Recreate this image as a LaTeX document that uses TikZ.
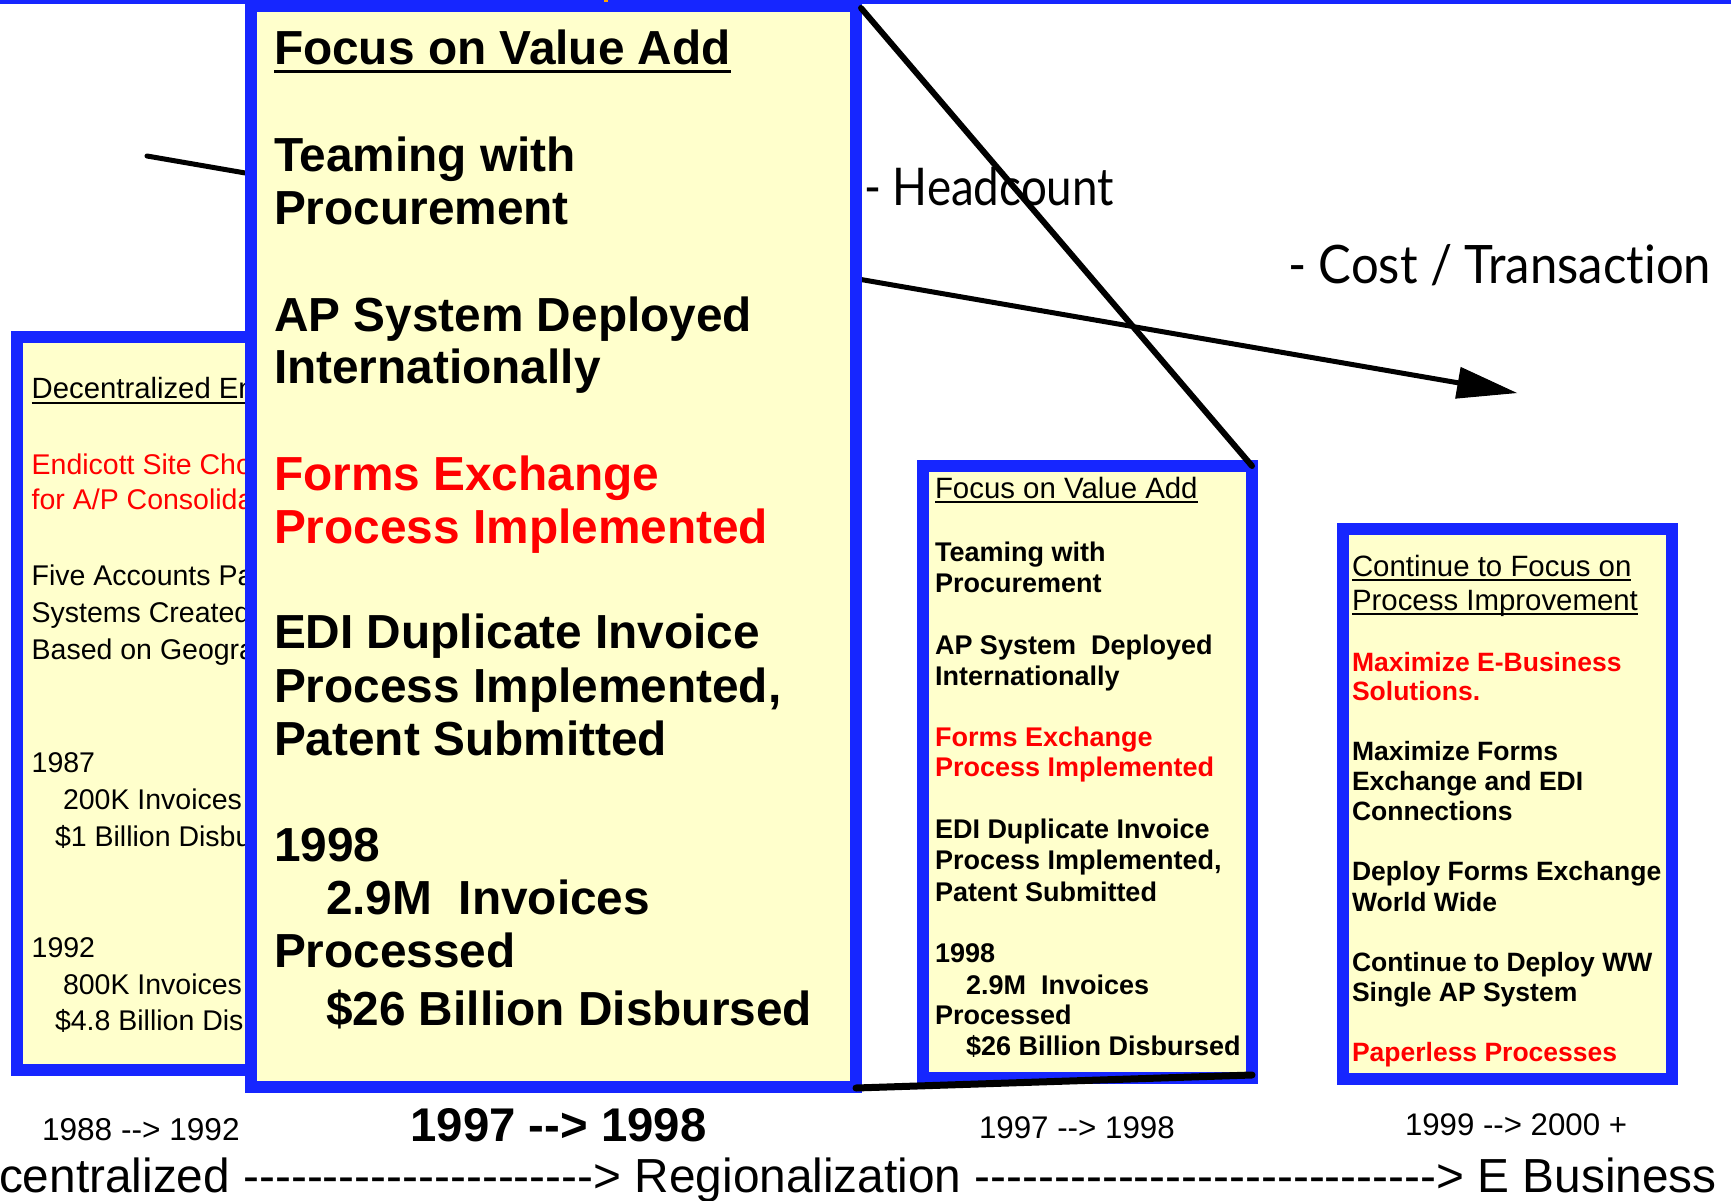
\documentclass[tikz,border=0pt]{standalone}
\usepackage{fontspec}
\setmainfont{Liberation Sans}
\newfontfamily\gillfont[FakeStretch=0.88,Ligatures=CommonOff]{Lato}
\newfontfamily\gillwide[FakeStretch=0.925,Ligatures=CommonOff]{Lato}
\usetikzlibrary{arrows.meta}
\definecolor{bblue}{RGB}{22,38,255}
\definecolor{byellow}{RGB}{255,255,204}
\definecolor{bred}{RGB}{255,0,0}
\definecolor{borange}{RGB}{255,160,0}
\newcommand\hy{\mbox{-}}
\newcommand\dashrun[1]{\foreach \k in {1,...,#1}{\hy}}
\begin{document}
\begin{tikzpicture}[x=1pt,y=-1pt,
  panel/.style={draw=bblue, line width=12pt, fill=byellow, inner sep=0pt, outer sep=0pt},
  txt/.style={anchor=base west, inner sep=0pt, outer sep=0pt},
  bigtxt/.style={txt, font=\fontsize{47.8}{56}\selectfont\bfseries},
  midtxt/.style={txt, font=\fontsize{27}{31}\selectfont\bfseries},
  midhead/.style={txt, font=\fontsize{29.4}{33}\selectfont},
  rtxt/.style={txt, font=\fontsize{26.5}{30}\selectfont\bfseries},
  rhead/.style={txt, font=\fontsize{29.4}{33}\selectfont},
  ltxt/.style={txt, font=\fontsize{28.5}{34}\selectfont},
  hot/.style={text=bred},
  gill/.style={txt, font=\gillfont\fontsize{52}{60}\selectfont},
  gillw/.style={txt, font=\gillwide\fontsize{53}{60}\selectfont},
  conn/.style={line width=6pt, line cap=round},
  uline/.style={line width=#1},
]
\useasboundingbox (0,0) rectangle (1731,1201);
\fill[bblue] (0,0) rectangle (1731,4);

% left (background) panel, partly hidden by the big panel
\node[panel, minimum width=383pt, minimum height=733pt] (lbox) at (208.5,703.5) {};
\node[ltxt, font=\fontsize{29.3}{34}\selectfont] (l1) at (31.7,398.5) {Decentralized En};
\draw[uline=2pt] ([yshift=-4.5pt]l1.base west) -- ([yshift=-4.5pt]l1.base east);
\node[ltxt,hot] (l2) at (31.7,474) {Endicott Site Cho};
\node[ltxt,hot] (l3) at (31.7,509) {for A/P Consolida};
\node[ltxt] (l4) at (31.7,585.6) {Five Accounts Pa};
\node[ltxt] (l5) at (31.7,622) {Systems Created};
\node[ltxt] (l6) at (31.7,659) {Based on Geogra};
\node[ltxt] (l7) at (31.7,772) {1987};
\node[ltxt] (l8) at (63,809.6) {200K Invoices P};
\node[ltxt] (l9) at (55,846) {\$1 Billion Disbu};
\node[ltxt] (l10) at (31.7,957) {1992};
\node[ltxt] (l11) at (63,994) {800K Invoices P};
\node[ltxt] (l12) at (55,1030) {\$4.8 Billion Disb};

% cost / transaction line
\coordinate (cstart) at (147,156);
\coordinate (ctip) at (1517,393);
\draw[line width=5pt, line cap=round, -{Triangle[length=60pt,width=32pt,line width=1pt]}] (cstart) -- (ctip);

% big (enlarged) panel
\node[panel, minimum width=605pt, minimum height=1081pt] (big) at (553.5,546.5) {};
\node[bigtxt] (b1) at (274,65) {Focus on Value Add};
\draw[uline=3pt] ([yshift=-6.5pt]b1.base west) -- ([yshift=-6.5pt]b1.base east);
\node[bigtxt] (b2) at (274,172) {Teaming with};
\node[bigtxt] (b3) at (274,224) {Procurement};
\node[bigtxt] (b4) at (274,331.5) {AP System Deployed};
\node[bigtxt] (b5) at (274,383) {Internationally};
\node[bigtxt,hot] (b6) at (274,490.6) {Forms Exchange};
\node[bigtxt,hot] (b7) at (274,543.7) {Process Implemented};
\node[bigtxt] (b8) at (274,648.7) {EDI Duplicate Invoice};
\node[bigtxt] (b9) at (274,702) {Process Implemented,};
\node[bigtxt] (b10) at (274,755.8) {Patent Submitted};
\node[bigtxt] (b11) at (274,861) {1998};
\node[bigtxt] (b12) at (326,914.7) {2.9M\ \ Invoices};
\node[bigtxt] (b13) at (274,967.9) {Processed};
\node[bigtxt] (b14) at (326,1025.9) {\$26 Billion Disbursed};
\fill[borange] (604,0) rectangle (608,2.5);

% labels
\node[gill] (hc) at (864,205) {- Headcount};
\node[gillw] (ct) at (1288,283) {- Cost / Transaction};

% middle panel
\node[panel, minimum width=329pt, minimum height=612pt] (mid) at (1087.5,772) {};
\node[midhead] (m1) at (935,498) {Focus on Value Add};
\draw[uline=2pt] ([yshift=-3.5pt]m1.base west) -- ([yshift=-3.5pt]m1.base east);
\node[midtxt] (m2) at (935,561) {Teaming with};
\node[midtxt] (m3) at (935,592) {Procurement};
\node[midtxt] (m4) at (935,654) {AP System\ \ Deployed};
\node[midtxt] (m5) at (935,685) {Internationally};
\node[midtxt,hot] (m6) at (935,746) {Forms Exchange};
\node[midtxt,hot] (m7) at (935,776.5) {Process Implemented};
\node[midtxt] (m8) at (935,838.6) {EDI Duplicate Invoice};
\node[midtxt] (m9) at (935,869.6) {Process Implemented,};
\node[midtxt] (m10) at (935,901) {Patent Submitted};
\node[midtxt] (m11) at (935,962) {1998};
\node[midtxt] (m12) at (966,994) {2.9M\ \ Invoices};
\node[midtxt] (m13) at (935,1024.7) {Processed};
\node[midtxt] (m14) at (966,1055) {\$26 Billion Disbursed};

% right panel
\node[panel, minimum width=329pt, minimum height=550pt] (rbox) at (1507.5,804) {};
\node[rhead] (r1) at (1352,576.6) {Continue to Focus on\ };
\draw[uline=2pt] ([yshift=-3.7pt]r1.base west) -- ([yshift=-3.7pt]r1.base east);
\node[rhead] (r2) at (1352,610) {Process Improvement};
\draw[uline=2pt] ([yshift=-3.7pt]r2.base west) -- ([yshift=-3.7pt]r2.base east);
\node[rtxt,hot] (r3) at (1352,671) {Maximize E-Business};
\node[rtxt,hot] (r4) at (1352,700.5) {Solutions.};
\node[rtxt] (r5) at (1352,760.8) {Maximize Forms};
\node[rtxt] (r6) at (1352,790.4) {Exchange and EDI};
\node[rtxt] (r7) at (1352,820) {Connections};
\node[rtxt] (r8) at (1352,880) {Deploy Forms Exchange};
\node[rtxt] (r9) at (1352,911) {World Wide};
\node[rtxt] (r10) at (1352,971.7) {Continue to Deploy WW};
\node[rtxt] (r11) at (1352,1001) {Single AP System};
\node[rtxt,hot] (r12) at (1352,1061) {Paperless Processes};

% zoom connectors
\draw[conn] ([xshift=5pt,yshift=-2pt]big.north east) -- (mid.north east);
\draw[line width=7pt, line cap=round] ([yshift=-1pt]big.south east) -- ([yshift=3pt]mid.south east);

% bottom labels
\node[txt, font=\fontsize{31.6}{36}\selectfont] (y1) at (42,1140) {1988 \hy\hy> 1992};
\node[txt, font=\fontsize{47.3}{56}\selectfont\bfseries] (y2) at (410.6,1141.7) {1997 \hy\hy> 1998};
\node[txt, font=\fontsize{31.3}{36}\selectfont] (y3) at (979,1138) {1997 \hy\hy> 1998};
\node[txt, font=\fontsize{31.2}{36}\selectfont] (y4) at (1405,1135) {1999 \hy\hy> 2000 +};
\node[txt, font=\fontsize{47.8}{56}\selectfont] (axis) at (-1,1192) {centralized \dashrun{22}> Regionalization \dashrun{29}> E Business};
\end{tikzpicture}
\end{document}
